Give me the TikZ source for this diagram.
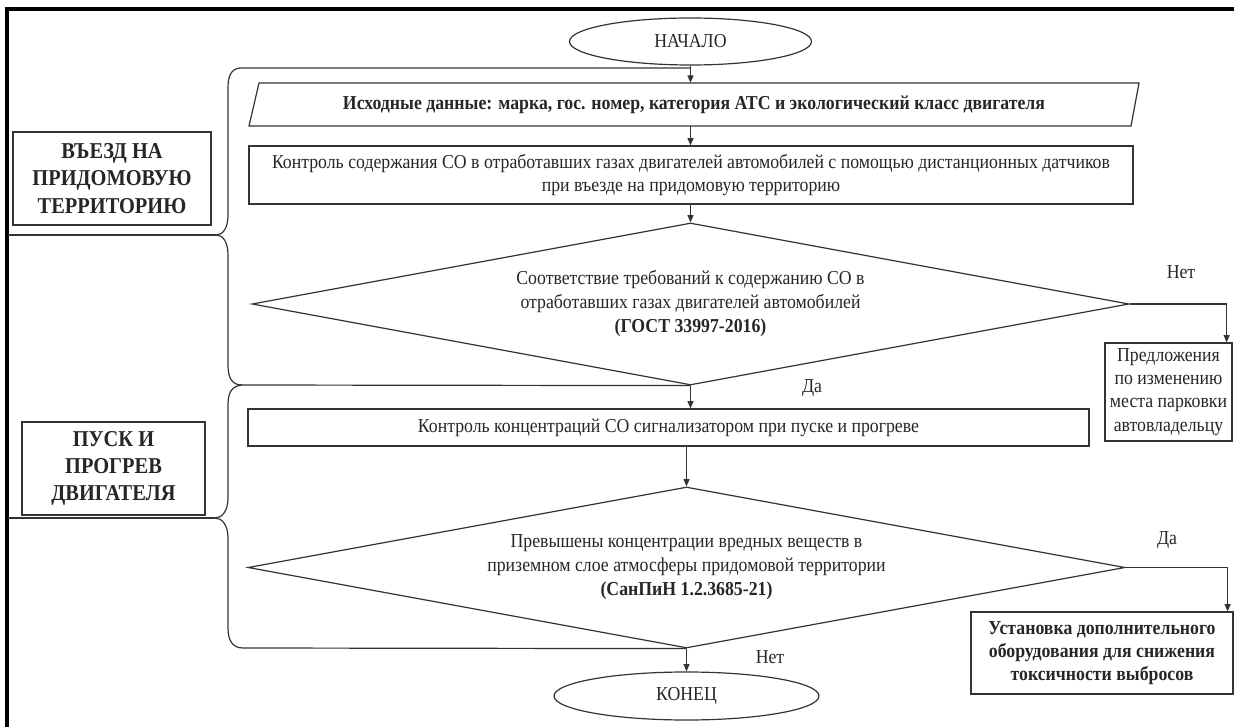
\documentclass[tikz,border=0pt]{standalone}
\usepackage{fontspec}
\setmainfont{Liberation Serif}[FakeStretch=0.9]
\usetikzlibrary{shapes.geometric,arrows.meta,calc}
\newcommand\pxu{0.75pt}
\newcommand\fs{\fontsize{14.8}{17.4}\selectfont}
\newcommand\fsd{\fontsize{14.8}{18}\selectfont}
\newcommand\lbl{\fontsize{17}{20.5}\selectfont\bfseries}
\begin{document}
\begin{tikzpicture}[x=0.75pt,y=-0.75pt,
  ln/.style={draw=black!80, line width=0.9pt},
  box/.style={ln, rectangle, inner sep=0pt, align=center, font=\fs, text=black!85},
  term/.style={ln, ellipse, inner sep=0pt, font=\fs, text=black!85},
  dia/.style={ln, diamond, aspect=5.4, inner sep=0pt, align=center, font=\fsd, text=black!85},
  inv/.style={rectangle, inner sep=0pt, align=center, font=\fs, text=black!85},
  lab/.style={inner sep=0pt, font=\fs, text=black!85},
  arr/.style={draw=black!80, line width=0.9pt, -{Triangle[length=5.5pt,width=4.5pt]}}]
\useasboundingbox (0,0) rectangle (1234,727);
% frame
\draw[line width=2.4pt] (7,740) -- (7,9) -- (1245,9);
% flow nodes
\node[term, minimum width=242*\pxu, minimum height=47*\pxu] (start) at (690.5,41.5) {НАЧАЛО};
\node[inv, font=\fs\bfseries, minimum width=880*\pxu, minimum height=43*\pxu] (inp) at (694,104.5) {Исходные данные: марка, гос. номер, категория АТС и экологический класс двигателя};
\draw[ln] (249,126) -- (259,83) -- (1139,83) -- (1131,126) -- cycle;
\node[box, minimum width=884*\pxu, minimum height=58*\pxu] (ctrl) at (691,175) {Контроль содержания СО в отработавших газах двигателей автомобилей с помощью дистанционных датчиков\\при въезде на придомовую территорию};
\node[dia, minimum width=877*\pxu, minimum height=162*\pxu] (d1) at (690.5,304) {Соответствие требований к содержанию СО в\\отработавших газах двигателей автомобилей\\\textbf{(ГОСТ 33997-2016)}};
\node[box, minimum width=841*\pxu, minimum height=37*\pxu] (sig) at (668.5,427.5) {Контроль концентраций СО сигнализатором при пуске и прогреве};
\node[dia, minimum width=877*\pxu, minimum height=161*\pxu] (d2) at (686.5,567.5) {Превышены концентрации вредных веществ в\\приземном слое атмосферы придомовой территории\\\textbf{(СанПиН 1.2.3685-21)}};
\node[term, minimum width=265*\pxu, minimum height=48*\pxu] (end) at (686.5,696) {КОНЕЦ};
\node[box, minimum width=127*\pxu, minimum height=98*\pxu] (park) at (1168.5,392) {Предложения\\по изменению\\места парковки\\автовладельцу};
\node[box, font=\fs\bfseries, minimum width=262*\pxu, minimum height=82*\pxu] (equip) at (1102,653) {Установка дополнительного\\оборудования для снижения\\токсичности выбросов};
% zone labels
\node[box, font=\lbl, minimum width=198*\pxu, minimum height=93*\pxu] (zone1) at (112,178.5) {ВЪЕЗД НА\\ПРИДОМОВУЮ\\ТЕРРИТОРИЮ};
\node[box, font=\lbl, minimum width=183*\pxu, minimum height=93*\pxu] (zone2) at (113.5,468.5) {ПУСК И\\ПРОГРЕВ\\ДВИГАТЕЛЯ};
% branch labels
\node[lab] (no1) at (1181,272) {Нет};
\node[lab] (yes1) at (812,388) {Да};
\node[lab] (yes2) at (1167,540) {Да};
\node[lab] (no2) at (770,657) {Нет};
% connectors
\draw[arr] (start.south) -- (start.south |- inp.north);
\draw[arr] (inp.south -| start.south) -- (ctrl.north -| start.south);
\draw[arr] (ctrl.south -| d1.north) -- (d1.north);
\draw[arr] (d1.south) -- (d1.south |- sig.north);
\draw[arr] (sig.south -| d2.north) -- (d2.north);
\draw[arr] (d2.south) -- (end.north);
\draw[arr] (d1.east) -| ($(park.north east)+(-6,0)$);
\draw[arr] (d2.east) -| ($(equip.north east)+(-6,0)$);
% braces
\draw[ln] (start.south |- 0,68) -- (240,68) .. controls (231,69) and (228,76) .. (228,88) -- (228,215) .. controls (228,228) and (223,235) .. (216,235) .. controls (223,235) and (228,242) .. (228,255) -- (228,365) .. controls (228,378) and (232,385) .. (242,385) -- (d1.south);
\draw[ln] (8,235) -- (216,235);
\draw[ln] (242,385) .. controls (232,386) and (228,392) .. (228,405) -- (228,498) .. controls (228,511) and (222,518) .. (215,518) .. controls (222,518) and (228,525) .. (228,538) -- (228,628) .. controls (228,641) and (233,648) .. (243,648) -- (d2.south);
\draw[ln] (8,518) -- (215,518);
\end{tikzpicture}
\end{document}
